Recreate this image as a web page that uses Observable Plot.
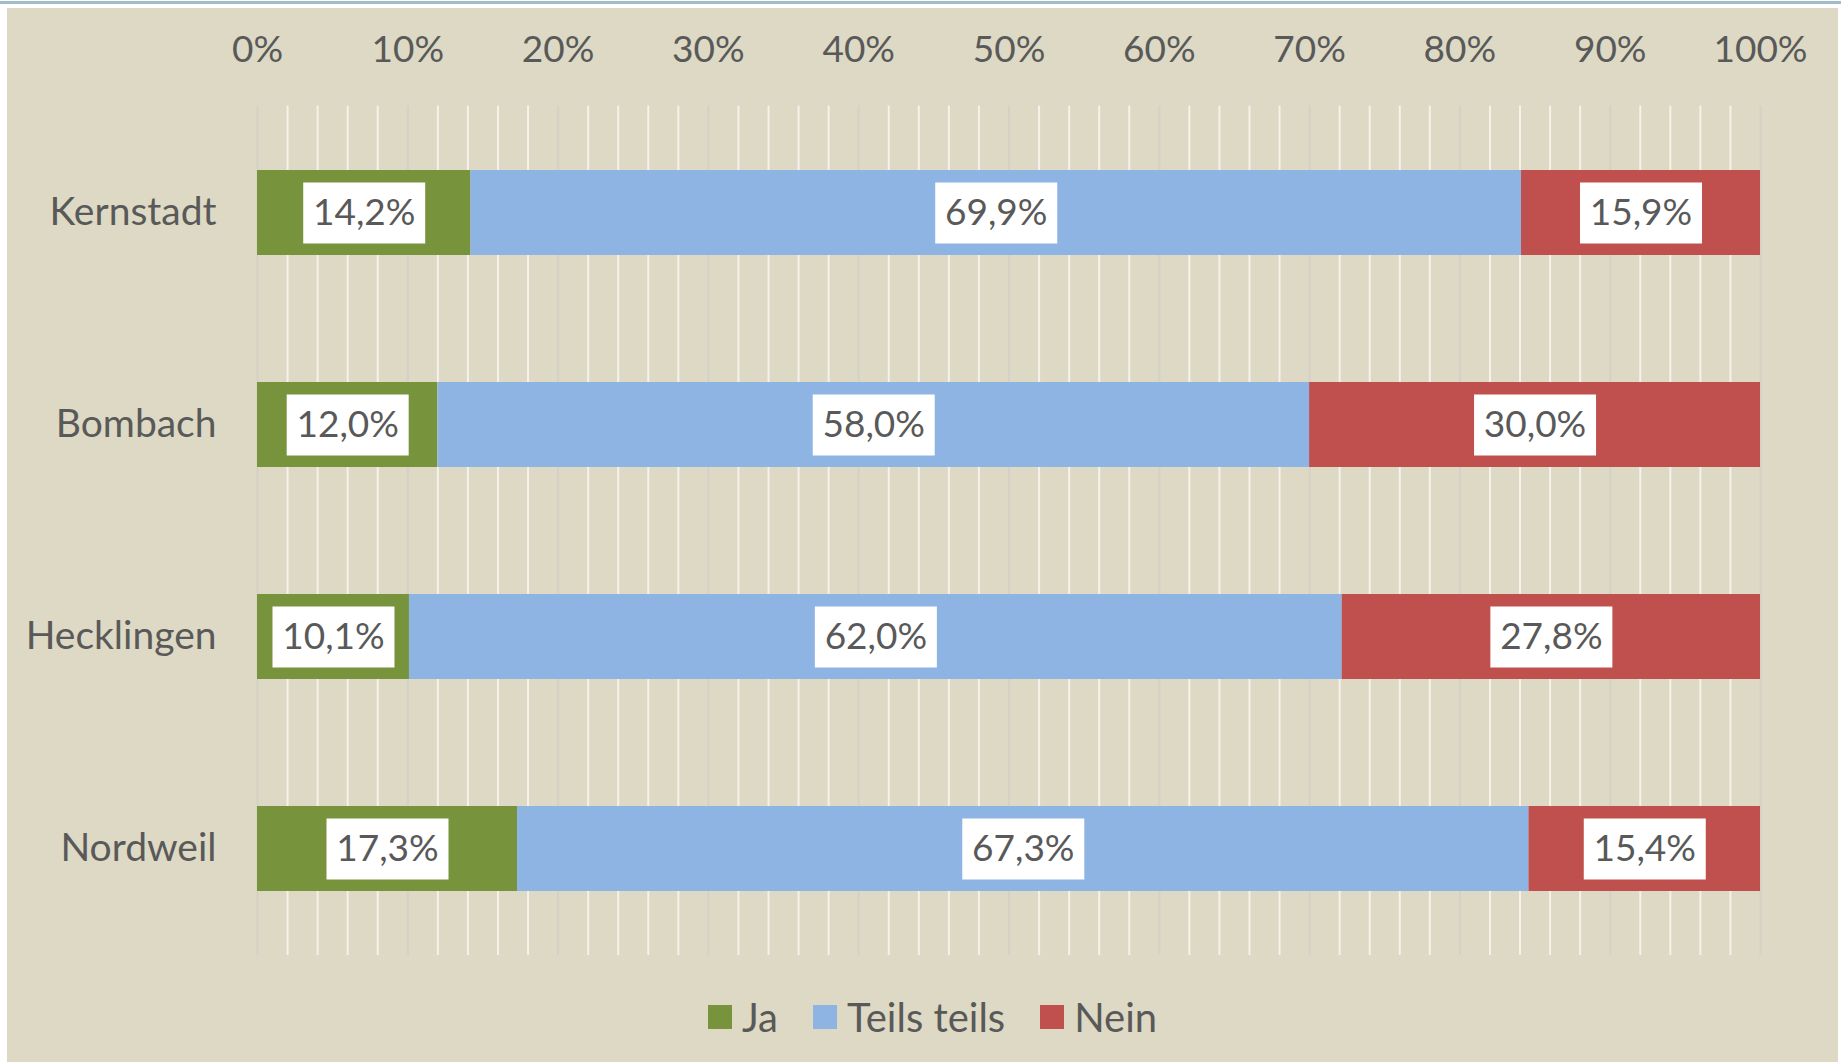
<!DOCTYPE html>
<html>
<head>
<meta charset="utf-8">
<script src="https://cdn.jsdelivr.net/npm/d3@7"></script>
<script src="https://cdn.jsdelivr.net/npm/@observablehq/plot@0.6"></script>
<style>
  html, body { margin: 0; padding: 0; background: #ffffff; width: 1841px; height: 1062px; overflow: hidden; }
  #topline { position: absolute; left: 0; top: 1px; width: 1841px; height: 3px; background: #A3BCCB; }
  #panel { position: absolute; left: 7px; top: 8px; width: 1831px; height: 1054px; background: #DDD9C4; font-family: Lato, sans-serif; }
  #chart { position: absolute; left: 0; top: 0; }
  #legend { position: absolute; left: 701px; top: 985px; display: flex; align-items: center; font-size: 40px; color: #595959; white-space: nowrap; }
  #legend .sw { width: 24px; height: 24px; display: inline-block; margin-right: 10px; }
  #legend .item { display: flex; align-items: center; margin-right: 35px; }
</style>
</head>
<body>
<div id="topline"></div>
<div id="panel">
  <div id="chart"></div>
  <div id="legend"></div>
</div>
<script>
const categories = ["Kernstadt", "Bombach", "Hecklingen", "Nordweil"];
const series = ["Ja", "Teils teils", "Nein"];
const jaValues = [14.2, 12.0, 10.1, 17.3];
const teilsValues = [69.9, 58.0, 62.0, 67.3];
const neinValues = [15.9, 30.0, 27.8, 15.4];
const seriesColors = ["#77933C", "#8EB4E3", "#C0504D"];
const tickValues = [0, 10, 20, 30, 40, 50, 60, 70, 80, 90, 100];
const tickLabels = ["0%", "10%", "20%", "30%", "40%", "50%", "60%", "70%", "80%", "90%", "100%"];
const minorGrid = [2, 4, 6, 8, 12, 14, 16, 18, 22, 24, 26, 28, 32, 34, 36, 38, 42, 44, 46, 48, 52, 54, 56, 58, 62, 64, 66, 68, 72, 74, 76, 78, 82, 84, 86, 88, 92, 94, 96, 98];

const valuesBySeries = [jaValues, teilsValues, neinValues];
const rows = [];
categories.forEach((cat, i) => {
  series.forEach((s, j) => {
    rows.push({category: cat, series: s, value: valuesBySeries[j][i]});
  });
});

const fmt = v => v.toFixed(1).replace(".", ",") + "%";
const boxSymbol = { draw(context) { context.rect(-61, -30.5, 122, 61); } };

const stackOpts = (extra) => Plot.stackX({x: "value", y: "category", z: "series", offset: "normalize", ...extra});

const chart = Plot.plot({
  width: 1831,
  height: 967,
  marginLeft: 250,
  marginRight: 78,
  marginTop: 97.5,
  marginBottom: 20,
  style: {fontFamily: "Lato, sans-serif", fontSize: "37px", color: "#595959", background: "transparent", overflow: "visible"},
  x: {domain: [0, 1], axis: null},
  y: {domain: categories, axis: null, paddingInner: 0.6, paddingOuter: 0.3},
  color: {domain: series, range: seriesColors},
  marks: [
    Plot.ruleX(minorGrid, {x: d => d / 100, stroke: "#F4F2EA", strokeWidth: 2}),
    Plot.ruleX(tickValues, {x: d => d / 100, stroke: "#D4D1C6", strokeWidth: 2}),
    Plot.axisX({anchor: "top", ticks: tickValues.map(d => d / 100), tickFormat: d => tickLabels[tickValues.indexOf(Math.round(d * 100))], tickSize: 0, tickPadding: 44, label: null, fontSize: 37}),
    Plot.axisY({anchor: "left", tickSize: 0, tickPadding: 41, label: null, fontSize: 39}),
    Plot.barX(rows, stackOpts({fill: "series", inset: 0})),
    Plot.dot(rows, stackOpts({symbol: boxSymbol, r: 10, fill: "white", stroke: null})),
    Plot.text(rows, stackOpts({text: d => fmt(d.value), fill: "#595959", fontSize: 37}))
  ]
});
document.getElementById("chart").appendChild(chart);

const legend = document.getElementById("legend");
series.forEach((s, j) => {
  const item = document.createElement("div");
  item.className = "item";
  const sw = document.createElement("span");
  sw.className = "sw";
  sw.style.background = seriesColors[j];
  const label = document.createElement("span");
  label.textContent = s;
  item.appendChild(sw);
  item.appendChild(label);
  legend.appendChild(item);
});
</script>
</body>
</html>
